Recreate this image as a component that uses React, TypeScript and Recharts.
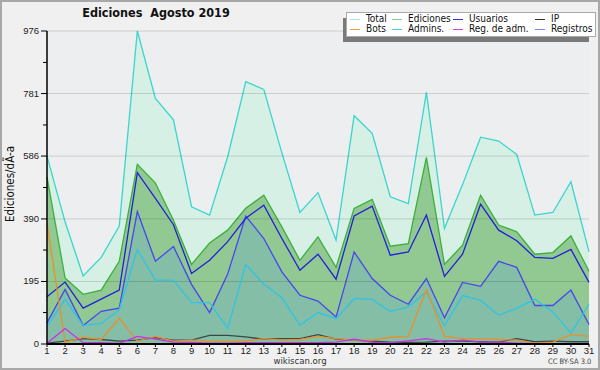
import React from 'react';
import {
  ComposedChart,
  Area,
  Line,
  XAxis,
  YAxis,
  CartesianGrid,
  ReferenceLine,
} from 'recharts';

// Days of the month
const days = [
  1, 2, 3, 4, 5, 6, 7, 8, 9, 10, 11, 12, 13, 14, 15, 16,
  17, 18, 19, 20, 21, 22, 23, 24, 25, 26, 27, 28, 29, 30, 31,
];

// Series values (edits per day)
const total = [586, 381, 212, 270, 368, 976, 766, 699, 428, 402, 584, 818, 794, 596, 410, 472, 324, 712, 657, 459, 438, 785, 360, 497, 645, 633, 591, 402, 410, 506, 287];
const ediciones = [521, 206, 155, 168, 258, 560, 502, 386, 248, 315, 355, 423, 464, 365, 261, 334, 239, 423, 451, 305, 313, 582, 248, 308, 464, 371, 350, 280, 285, 337, 227];
const usuarios = [147, 193, 112, 140, 168, 534, 454, 372, 220, 261, 319, 392, 433, 329, 230, 280, 202, 399, 430, 277, 287, 402, 211, 280, 436, 355, 322, 270, 267, 295, 192];
const registros = [66, 170, 58, 102, 112, 413, 258, 304, 186, 98, 218, 399, 329, 225, 152, 134, 84, 287, 204, 152, 124, 204, 82, 192, 180, 258, 239, 120, 120, 168, 61];
const admins = [55, 139, 58, 64, 107, 295, 199, 199, 129, 129, 48, 248, 186, 144, 58, 98, 79, 142, 139, 102, 116, 162, 56, 151, 136, 90, 111, 140, 100, 34, 124];
const bots = [376, 6, 21, 14, 80, 9, 24, 9, 12, 9, 9, 9, 17, 12, 14, 24, 17, 12, 12, 21, 24, 170, 24, 17, 17, 14, 12, 3, 6, 29, 24];
const ip = [3, 9, 17, 14, 9, 12, 20, 12, 12, 27, 27, 22, 15, 17, 17, 29, 15, 12, 9, 6, 5, 6, 9, 9, 7, 6, 17, 7, 9, 7, 7];
const regAdm = [2, 48, 4, 4, 2, 24, 15, 6, 5, 3, 3, 4, 4, 4, 4, 4, 6, 15, 5, 4, 10, 17, 6, 12, 6, 6, 3, 1, 1, 1, 1];

// Y axis tick labels (major) and minor tick marks
const yMajorTicks = [0, 195, 390, 586, 781, 976];
const yMinorTicks = [98, 293, 488, 683, 878];

// Legend rows
const legendItems = [
  { name: 'Total', color: '#a8e8e0' },
  { name: 'Ediciones', color: '#88d088' },
  { name: 'Usuarios', color: '#3434e0' },
  { name: 'IP', color: '#303030' },
  { name: 'Bots', color: '#f0a040' },
  { name: 'Admins.', color: '#40d0e0' },
  { name: 'Reg. de adm.', color: '#d040e0' },
  { name: 'Registros', color: '#8080f0' },
];

const data = days.map((day, i) => ({
  day,
  total: total[i],
  ediciones: ediciones[i],
  usuarios: usuarios[i],
  registros: registros[i],
  admins: admins[i],
  bots: bots[i],
  ip: ip[i],
  regAdm: regAdm[i],
}));

const TICK_FONT = '"Liberation Sans", Arial, sans-serif';
const TEXT_FONT = '"DejaVu Sans Condensed", "DejaVu Sans", sans-serif';

const YTick = (props: any) => {
  const { x, y, payload } = props;
  const major = yMajorTicks.includes(payload.value);
  return (
    <g>
      <line x1={x - (major ? 6 : 4)} y1={y} x2={x} y2={y} stroke="#000" strokeWidth={1} />
      {major && (
        <text x={x - 8} y={y + 3} textAnchor="end" fontSize={9.5} fill="#222" fontFamily={TICK_FONT}>
          {payload.value}
        </text>
      )}
    </g>
  );
};

const XTick = (props: any) => {
  const { x, y, payload } = props;
  return (
    <g>
      <line x1={x} y1={y} x2={x} y2={y + 3} stroke="#000" strokeWidth={1} />
      <text x={x} y={y + 10} textAnchor="middle" fontSize={9.5} fill="#222" fontFamily='"Liberation Sans Narrow", "Liberation Sans", sans-serif'>
        {payload.value}
      </text>
    </g>
  );
};

export default function App() {
  return (
    <div style={{ position: 'absolute', left: 0, top: 0, width: 600, height: 370, background: '#f0f0f0', overflow: 'hidden' }}>
      <ComposedChart
        width={600}
        height={370}
        data={data}
        margin={{ top: 31, right: 11, bottom: 0, left: 0 }}
      >
        <CartesianGrid fill="#edeef0" horizontal={false} vertical={false} />
        <XAxis
          dataKey="day"
          type="number"
          domain={[1, 31]}
          ticks={days}
          height={26}
          tickSize={0}
          tickMargin={0}
          tick={<XTick />}
          axisLine={{ stroke: '#000', strokeWidth: 2 }}
          tickLine={false}
          interval={0}
        />
        <YAxis
          type="number"
          domain={[0, 976]}
          ticks={[...yMajorTicks, ...yMinorTicks].sort((a, b) => a - b)}
          width={47}
          tickSize={0}
          tickMargin={0}
          tick={<YTick />}
          axisLine={{ stroke: '#000', strokeWidth: 1.5 }}
          tickLine={false}
          interval={0}
        />
        <Area type="linear" dataKey="total" stroke="#3ad6cc" strokeWidth={1.3} fill="#d6f0e6" fillOpacity={1} isAnimationActive={false} dot={false} />
        <Area type="linear" dataKey="ediciones" stroke="#3cb03c" strokeWidth={1.3} fill="#92c992" fillOpacity={1} isAnimationActive={false} dot={false} />
        <Area type="linear" dataKey="registros" stroke="#4646f0" strokeWidth={1.3} fill="#84bea6" fillOpacity={1} isAnimationActive={false} dot={false} />
        {yMajorTicks.slice(1).map((v) => (
          <ReferenceLine key={v} y={v} stroke="#000" strokeOpacity={0.14} strokeWidth={1} />
        ))}
        <Line type="linear" dataKey="usuarios" stroke="#2020d8" strokeWidth={1.3} dot={false} isAnimationActive={false} />
        <Line type="linear" dataKey="admins" stroke="#30c4e4" strokeWidth={1.3} dot={false} isAnimationActive={false} />
        <Line type="linear" dataKey="ip" stroke="#3c4848" strokeWidth={1.3} dot={false} isAnimationActive={false} />
        <Line type="linear" dataKey="bots" stroke="#e8902c" strokeWidth={1.3} dot={false} isAnimationActive={false} />
        <Line type="linear" dataKey="regAdm" stroke="#c830e8" strokeWidth={1.3} dot={false} isAnimationActive={false} />
      </ComposedChart>

      {/* Title */}
      <div style={{ position: 'absolute', left: 0, top: 5, width: 312, textAlign: 'center', fontFamily: TEXT_FONT, fontWeight: 'bold', fontSize: 12.5, color: '#111', whiteSpace: 'pre' }}>
        {'Ediciones  Agosto 2019'}
      </div>

      {/* Y axis label */}
      <div style={{ position: 'absolute', left: 10, top: 184, transform: 'translate(-50%, -50%) rotate(-90deg)', fontFamily: TEXT_FONT, fontSize: 11.5, color: '#111', whiteSpace: 'nowrap' }}>
        Ediciones/dÃ-a
      </div>

      {/* Legend */}
      <div style={{ position: 'absolute', left: 343, top: 18, width: 246, height: 24, background: '#7a7a7a' }} />
      <div style={{ position: 'absolute', left: 346, top: 12, width: 245, height: 22, background: '#fff', border: '1px solid #aaa', display: 'grid', gridTemplateColumns: '42px 61px 82px 60px', gridAutoRows: '10px', paddingTop: 1, paddingLeft: 3, boxSizing: 'content-box', fontFamily: TEXT_FONT, fontSize: 10, color: '#111', lineHeight: '10px' }}>
        {legendItems.map((item) => (
          <div key={item.name} style={{ display: 'flex', alignItems: 'center', whiteSpace: 'nowrap', overflow: 'visible' }}>
            <svg width={10} height={10} style={{ marginRight: 6, flex: 'none' }}>
              <line x1={0} y1={5.5} x2={10} y2={5.5} stroke={item.color} strokeWidth={1} />
            </svg>
            <span style={{ lineHeight: '10px' }}>{item.name}</span>
          </div>
        ))}
      </div>

      {/* Footer */}
      <div style={{ position: 'absolute', left: 0, top: 355, width: 600, textAlign: 'center', fontFamily: TEXT_FONT, fontSize: 9.5, color: '#333' }}>
        wikiscan.org
      </div>
      <div style={{ position: 'absolute', left: 548, top: 357, fontFamily: TEXT_FONT, fontSize: 7.5, color: '#444', whiteSpace: 'nowrap' }}>
        CC BY-SA 3.0
      </div>

      {/* Frame */}
      <div style={{ position: 'absolute', left: 0, top: 0, width: 600, height: 370, boxSizing: 'border-box', border: '2px solid #a8a8a8', pointerEvents: 'none' }} />
    </div>
  );
}
